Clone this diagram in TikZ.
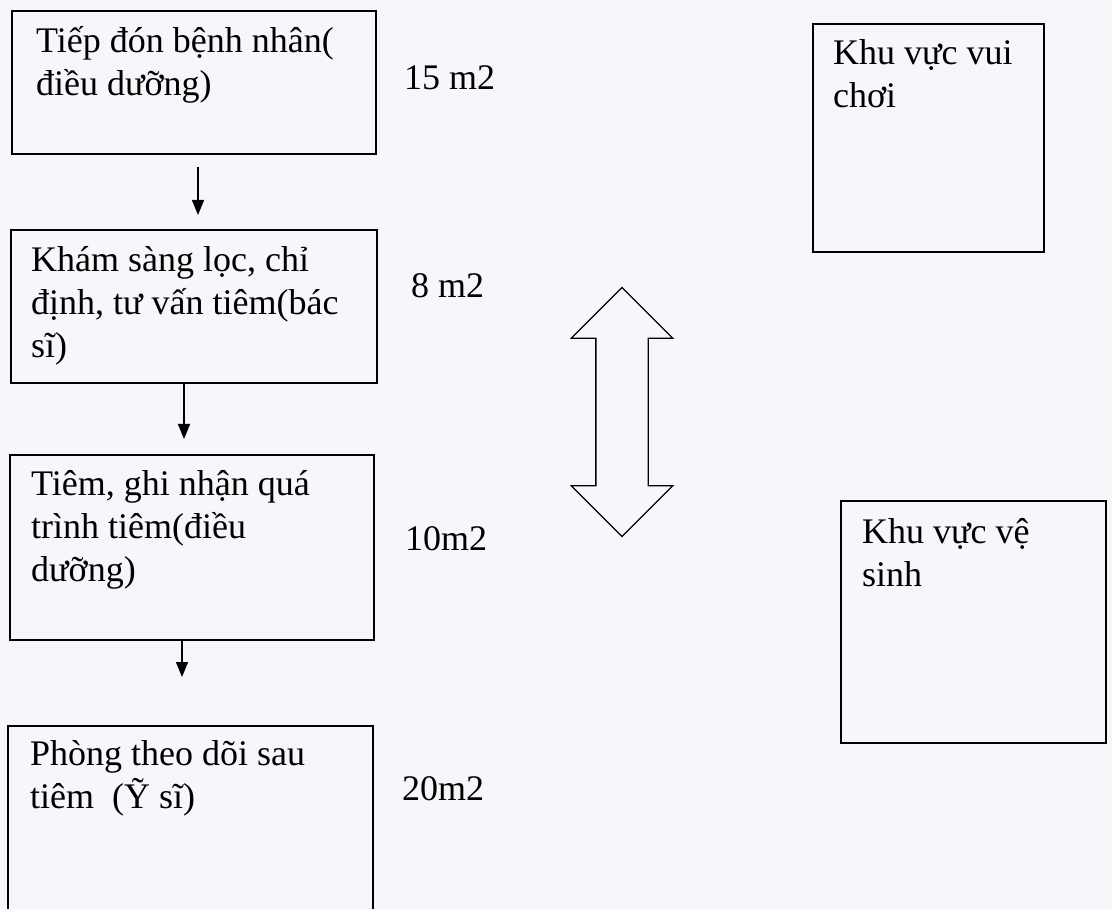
\documentclass[tikz,border=0pt]{standalone}
\usepackage{fontspec}
\setmainfont{Liberation Serif}
\usetikzlibrary{arrows.meta}
\usetikzlibrary{shapes.arrows}

\definecolor{paper}{RGB}{246,247,250}

\tikzset{
    room/.style={draw=black, line width=2pt, anchor=north west, inner sep=0pt},
    roomtext/.style={anchor=base west, align=left, inner sep=0pt, font=\fontsize{36}{43}\selectfont},
    area/.style={anchor=base west, inner sep=0pt, font=\fontsize{36}{43}\selectfont},
    flow/.style={-{Triangle[length=15pt,width=12pt]}, line width=1.4pt},
    twoway/.style={draw=black, line width=1.3pt, double arrow, rotate=90, minimum height=249pt,
        inner sep=25.5pt, double arrow head extend=24.5pt, double arrow tip angle=90},
}

\begin{document}
\begin{tikzpicture}[x=1pt, y=-1pt]
    %%% Page %%%
    \clip (0,0) rectangle (1112,909);
    \fill[paper] (0,0) rectangle (1112,909);

    %%% Rooms on the left %%%
    \node[room, minimum width=364pt, minimum height=143pt] (tiepdon) at (11,10) {};
    \node[room, minimum width=366pt, minimum height=153pt] (khamsang) at (10,229) {};
    \node[room, minimum width=364pt, minimum height=185pt] (tiem) at (9,454) {};
    \node[room, minimum width=365pt, minimum height=230pt] (theodoi) at (7,725) {}; % runs off the page

    % base = baseline of the last line
    \node[roomtext] (tiepdontext) at (36,96) {Tiếp đón bệnh nhân(\\điều dưỡng)};
    \node[roomtext] (khamsangtext) at (31,358) {Khám sàng lọc, chỉ\\định, tư vấn tiêm(bác\\sĩ)};
    \node[roomtext] (tiemtext) at (31,581) {Tiêm, ghi nhận quá\\trình tiêm(điều\\dưỡng)};
    \node[roomtext] (theodoitext) at (30,808) {Phòng theo dõi sau\\tiêm\ \ (Ỹ sĩ)};

    %%% Areas %%%
    \node[area] (tiepdonarea) at (404,90) {15 m2};
    \node[area] (khamsangarea) at (411,298) {8 m2};
    \node[area] (tiemarea) at (405,550) {10m2};
    \node[area] (theodoiarea) at (402,800) {20m2};

    %%% Rooms on the right %%%
    \node[room, minimum width=231pt, minimum height=228pt] (vuichoi) at (812,23) {};
    \node[room, minimum width=265pt, minimum height=242pt] (vesinh) at (840,500) {};
    \node[roomtext] (vuichoitext) at (833,108) {Khu vực vui\\chơi};
    \node[roomtext] (vesinhtext) at (862,586) {Khu vực vệ\\sinh};

    %%% Flow %%%
    \draw[flow, shorten <=12pt, shorten >=14pt] ([xshift=4pt]tiepdon.south) -- ([xshift=4pt]tiepdon.south |- khamsang.north);
    \draw[flow, shorten >=15pt] ([xshift=-10pt]khamsang.south) -- ([xshift=-10pt]khamsang.south |- tiem.north);
    \draw[flow, shorten >=48pt] ([xshift=-10pt]tiem.south) -- ([xshift=-10pt]tiem.south |- theodoi.north);

    %%% Two-way link %%%
    \node[twoway] (link) at (622,412) {};
\end{tikzpicture}
\end{document}
